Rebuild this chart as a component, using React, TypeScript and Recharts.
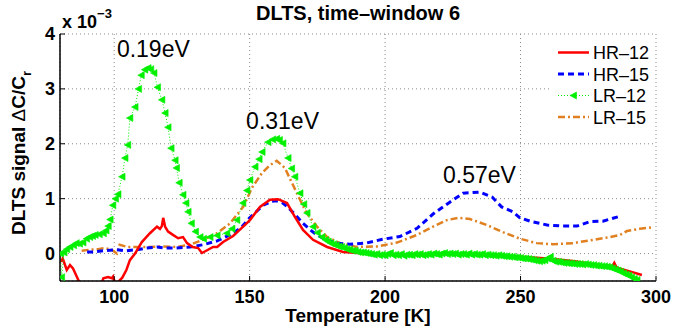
import React from 'react';
import { LineChart, Line, XAxis, YAxis, CartesianGrid, ReferenceDot, Customized } from 'recharts';

const FONT = '"Liberation Sans", Arial, Helvetica, sans-serif';
const RED = '#ff0000';
const BLUE = '#0000ff';
const GREEN = '#00f000';
const ORANGE = '#e08020';

// Tick labels
const xTicks = [100, 150, 200, 250, 300];
const yTicks = [0, 1, 2, 3, 4];

// HR-12 (units of 1e-3)
const hr12T = [80.4, 81, 82.5, 83.7, 84.8, 86, 87.4, 90, 93, 95.5, 96, 97.7, 99.2, 99.6, 100.4, 101.4, 103, 104.5, 105.8, 107.7, 110.2, 113.2, 115.8, 116.9, 117.6, 118.1, 118.8, 119.9, 121.7, 123.6, 125.4, 126.9, 129, 131, 132.4, 134.3, 136.5, 138, 140.2, 143.9, 147.6, 150.1, 153.8, 157.5, 160.5, 163.8, 166.7, 169.7, 173.4, 178.6, 184.5, 193, 200, 210, 220, 230, 240, 250, 260, 270, 280, 284, 284.6, 285.5, 290, 294.8];
const hr12V = [-0.15, -0.09, -0.30, -0.21, -0.27, -0.40, -0.55, -0.65, -0.6, -0.52, -0.45, -0.43, -0.45, -0.42, -0.55, -0.52, -0.44, -0.3, -0.12, 0.0, 0.21, 0.37, 0.49, 0.45, 0.5, 0.65, 0.49, 0.40, 0.34, 0.28, 0.30, 0.19, 0.12, 0.10, 0.01, 0.06, 0.12, 0.12, 0.21, 0.32, 0.49, 0.61, 0.85, 0.98, 0.99, 0.92, 0.67, 0.43, 0.25, 0.12, 0.03, 0.0, -0.02, -0.02, -0.01, -0.01, -0.03, -0.06, -0.09, -0.14, -0.22, -0.22, -0.17, -0.26, -0.32, -0.39];

// HR-15
const hr15T = [90, 92, 96, 101, 104, 108.4, 112, 115.8, 119, 123, 128, 132.8, 138, 144, 147, 150, 155, 158, 160, 162, 164, 167.5, 169.7, 173.4, 177, 182, 187, 193, 199, 205.5, 211.8, 217.7, 224, 228.8, 235, 239.5, 243, 247.2, 249.8, 253.5, 259.8, 265.7, 270.8, 275.6, 280.4, 286.7];
const hr15V = [0.03, 0.03, 0.05, 0.07, 0.05, 0.07, 0.1, 0.12, 0.1, 0.1, 0.12, 0.16, 0.23, 0.37, 0.48, 0.65, 0.88, 0.95, 0.96, 0.93, 0.85, 0.67, 0.55, 0.39, 0.28, 0.19, 0.17, 0.19, 0.26, 0.31, 0.46, 0.72, 0.94, 1.10, 1.12, 1.03, 0.85, 0.76, 0.65, 0.59, 0.52, 0.50, 0.50, 0.58, 0.59, 0.68];

// LR-12
const lr12T = [80.2, 80.6, 81.5, 82.5, 83.7, 85, 86, 87.2, 88.5, 89.8, 91, 92, 93, 94.5, 96, 97, 97.8, 98.5, 99.5, 100.5, 101.4, 102.9, 104, 105, 105.8, 107.7, 109, 110, 111.3, 112.5, 113.5, 114.7, 116, 117.6, 118.8, 119.9, 121, 122.5, 123, 124, 125.4, 126.5, 127.3, 128.5, 130, 131.7, 133, 135.4, 138, 141.6, 143.5, 145.3, 147.5, 149, 150.1, 152, 153.5, 154.6, 156.8, 158.5, 160, 161, 162.3, 164.2, 165.5, 166.7, 168.6, 170, 171.2, 173.4, 175, 176.7,
  178, 179, 180, 181, 182, 183, 184, 185, 186, 187, 188, 189, 190, 191, 192, 193, 194, 195, 196, 197, 198, 199,
  200, 201, 202, 203, 204, 205, 206, 207, 208, 209, 210, 211, 212, 213, 214, 215, 216, 217, 218, 219,
  220, 221, 222, 223, 224, 225, 226, 227, 228, 229, 230, 231, 232, 233, 234, 235, 236, 237, 238, 239,
  240, 241, 242, 243, 244, 245, 246, 247, 248, 249, 250, 251, 252, 253, 254, 255, 256, 257, 258, 259,
  260, 261, 262, 263, 264, 265, 266, 267, 268, 269, 270, 271, 272, 273, 274, 275, 276, 277, 278, 279,
  280, 281, 282, 283, 284, 285, 286, 287, 288, 289, 290, 291, 292, 293];
const lr12V = [0.0, -0.43, 0.02, 0.08, 0.12, 0.15, 0.19, 0.18, 0.2, 0.27, 0.3, 0.32, 0.34, 0.35, 0.37, 0.42, 0.5, 0.62, 0.88, 1.0, 1.08, 1.40, 1.74, 1.98, 2.47, 2.67, 3.0, 3.25, 3.35, 3.38, 3.36, 3.29, 3.03, 2.80, 2.56, 2.30, 1.92, 1.70, 1.56, 1.29, 1.07, 0.92, 0.76, 0.55, 0.40, 0.30, 0.27, 0.30, 0.33, 0.37, 0.45, 0.61, 0.92, 1.15, 1.34, 1.58, 1.72, 1.85, 2.03, 2.08, 2.09, 2.07, 2.01, 1.74, 1.55, 1.40, 1.10, 0.9, 0.74, 0.49, 0.38, 0.30,
  0.25, 0.22, 0.19, 0.17, 0.15, 0.13, 0.12, 0.10, 0.08, 0.07, 0.05, 0.05, 0.03, 0.02, 0.02, 0.01, 0.0, -0.01, -0.02, -0.01, -0.03, -0.02,
  -0.03, -0.01, 0.01, -0.03, -0.02, -0.03, -0.01, -0.04, -0.02, -0.02, -0.03, -0.01, -0.02, -0.01, -0.03, -0.02, -0.01, -0.02, 0.0, -0.01,
  -0.02, 0.0, 0.01, -0.01, 0.0, -0.01, 0.0, -0.02, -0.01, -0.01, -0.02, 0.0, -0.02, -0.01, -0.02, -0.02, -0.01, -0.03, -0.02, -0.03,
  -0.03, -0.04, -0.03, -0.04, -0.05, -0.05, -0.06, -0.06, -0.07, -0.07, -0.08, -0.09, -0.09, -0.10, -0.11, -0.12, -0.13, -0.14, -0.13, -0.12,
  -0.09, -0.06, -0.13, -0.15, -0.15, -0.16, -0.17, -0.17, -0.18, -0.18, -0.19, -0.19, -0.19, -0.20, -0.19, -0.20, -0.21, -0.21, -0.22, -0.22,
  -0.23, -0.23, -0.24, -0.25, -0.27, -0.29, -0.31, -0.33, -0.36, -0.38, -0.40, -0.43, -0.46, -0.48];

// LR-15
const lr15T = [88, 91, 94, 96.6, 99, 101, 102, 105, 108, 113, 118, 123, 128, 132.8, 138, 142.8, 147.6, 151, 154.6, 157.5, 160, 163, 165.6, 168.6, 171, 174.9, 178.6, 183.4, 189.6, 197, 204.4, 211.8, 217.7, 222.8, 227, 231.3, 237.6, 243.5, 249.8, 256, 262, 269.4, 276.8, 283, 286.7, 289.3, 294, 298.9];
const lr15V = [0.05, 0.07, 0.08, 0.1, 0.07, 0.0, 0.16, 0.12, 0.12, 0.12, 0.13, 0.12, 0.16, 0.25, 0.37, 0.55, 0.85, 1.21, 1.47, 1.61, 1.69, 1.56, 1.29, 0.98, 0.74, 0.49, 0.30, 0.19, 0.12, 0.13, 0.2, 0.34, 0.49, 0.61, 0.65, 0.63, 0.52, 0.39, 0.27, 0.19, 0.17, 0.19, 0.25, 0.30, 0.34, 0.41, 0.45, 0.48];

// Peak annotations
const annoText = ['0.19eV', '0.31eV', '0.57eV'];
const annoT = [101, 148.7, 221.4];
const annoV = [3.58, 2.27, 1.29];

const zip = (t: number[], v: number[]) => t.map((x, i) => ({ t: x, v: v[i] }));
const hr12 = zip(hr12T, hr12V);
const hr15 = zip(hr15T, hr15V);
const lr12 = zip(lr12T, lr12V);
const lr15 = zip(lr15T, lr15V);

const TriDot = (props: any) => {
  const { cx, cy, index } = props;
  if (cx == null || cy == null) return <g key={index} />;
  return (
    <polygon
      key={index}
      points={`${cx - 3.5},${cy} ${cx + 3},${cy - 3.5} ${cx + 3},${cy + 3.5}`}
      fill={GREEN}
      stroke={GREEN}
      strokeWidth={0.6}
    />
  );
};

const legendItems = [
  { name: 'HR\u201312', color: RED, dash: undefined as string | undefined, w: 2.5, tri: false },
  { name: 'HR\u201315', color: BLUE, dash: '6 4', w: 3, tri: false },
  { name: 'LR\u201312', color: GREEN, dash: '1 2', w: 1, tri: true },
  { name: 'LR\u201315', color: ORANGE, dash: '7 3 2 3', w: 2.5, tri: false },
];

const Overlay = () => (
  <g fontFamily={FONT}>
    <text x={358} y={20} textAnchor="middle" fontSize={20} fontWeight="bold" fill="#000">
      DLTS, time{'\u2013'}window 6
    </text>
    <text x={62} y={28} fontSize={18} fontWeight="bold" fill="#000">
      x 10
      <tspan dy={-10} fontSize={13}>{'\u22123'}</tspan>
    </text>
    <text transform="translate(25,153) rotate(-90)" textAnchor="middle" fontSize={19} fontWeight="bold" fill="#000">
      DLTS signal <tspan fontWeight="normal">{'\u0394'}</tspan>C/C<tspan dy={6} fontSize={13}>r</tspan>
    </text>
    <text x={358} y={322} textAnchor="middle" fontSize={19} fontWeight="bold" fill="#000">
      Temperature [K]
    </text>
    <rect x={549} y={38} width={105} height={91} fill="#fff" />
    {legendItems.map((it, i) => {
      const y = 52.5 + i * 21.5;
      return (
        <g key={it.name}>
          <line x1={558} x2={589} y1={y} y2={y} stroke={it.color} strokeWidth={it.w} strokeDasharray={it.dash} />
          {it.tri ? (
            <polygon points={`${570},${y} ${576.5},${y - 3.5} ${576.5},${y + 3.5}`} fill={it.color} stroke={it.color} strokeWidth={0.6} />
          ) : null}
          <text x={593} y={y + 6.5} fontSize={18} fill="#000">{it.name}</text>
        </g>
      );
    })}
  </g>
);

const tickStyle = { fontSize: 18, fontWeight: 'bold', fill: '#000', fontFamily: FONT } as any;
const axisLine = { stroke: '#000', strokeWidth: 1.5 };
const tickLine = { stroke: '#000', strokeWidth: 1 };

export default function App() {
  return (
    <div style={{ position: 'absolute', left: 0, top: 0, background: '#fff' }}>
      <LineChart width={674} height={331} margin={{ top: 34, right: 18, bottom: 0, left: 0 }}>
        <CartesianGrid stroke="#8a8a8a" strokeDasharray="1 3" strokeWidth={1} />
        <XAxis
          dataKey="t"
          type="number"
          domain={[80, 300]}
          ticks={xTicks}
          allowDataOverflow
          height={50}
          tick={tickStyle}
          tickSize={-5}
          tickMargin={14}
          axisLine={axisLine}
          tickLine={tickLine}
        />
        <XAxis
          xAxisId="top"
          orientation="top"
          type="number"
          domain={[80, 300]}
          ticks={xTicks}
          allowDataOverflow
          height={0}
          tickSize={-5}
          tickFormatter={() => ''}
          axisLine={axisLine}
          tickLine={tickLine}
        />
        <YAxis
          type="number"
          domain={[-0.5, 4]}
          ticks={yTicks}
          allowDataOverflow
          width={60}
          tick={tickStyle}
          tickSize={-5}
          tickMargin={10}
          axisLine={axisLine}
          tickLine={tickLine}
        />
        <YAxis
          yAxisId="right"
          orientation="right"
          type="number"
          domain={[-0.5, 4]}
          ticks={yTicks}
          allowDataOverflow
          width={0}
          tickSize={-5}
          tickFormatter={() => ''}
          axisLine={axisLine}
          tickLine={tickLine}
        />
        <Line data={lr15} dataKey="v" stroke={ORANGE} strokeWidth={2.5} strokeDasharray="7 3 2 3" dot={false} isAnimationActive={false} />
        <Line data={hr15} dataKey="v" stroke={BLUE} strokeWidth={3} strokeDasharray="6 4" dot={false} isAnimationActive={false} />
        <Line data={hr12} dataKey="v" stroke={RED} strokeWidth={2.5} dot={false} isAnimationActive={false} />
        <Line data={lr12} dataKey="v" stroke={GREEN} strokeWidth={1} strokeDasharray="1 2" dot={<TriDot />} isAnimationActive={false} />
        {annoText.map((s, i) => (
          <ReferenceDot
            key={s}
            x={annoT[i]}
            y={annoV[i]}
            r={0}
            ifOverflow="visible"
            shape={(p: any) => (
              <text x={p.cx} y={p.cy} fontSize={23} fontFamily={FONT} fill="#000">{s}</text>
            )}
          />
        ))}
        <Customized component={Overlay} />
      </LineChart>
    </div>
  );
}
